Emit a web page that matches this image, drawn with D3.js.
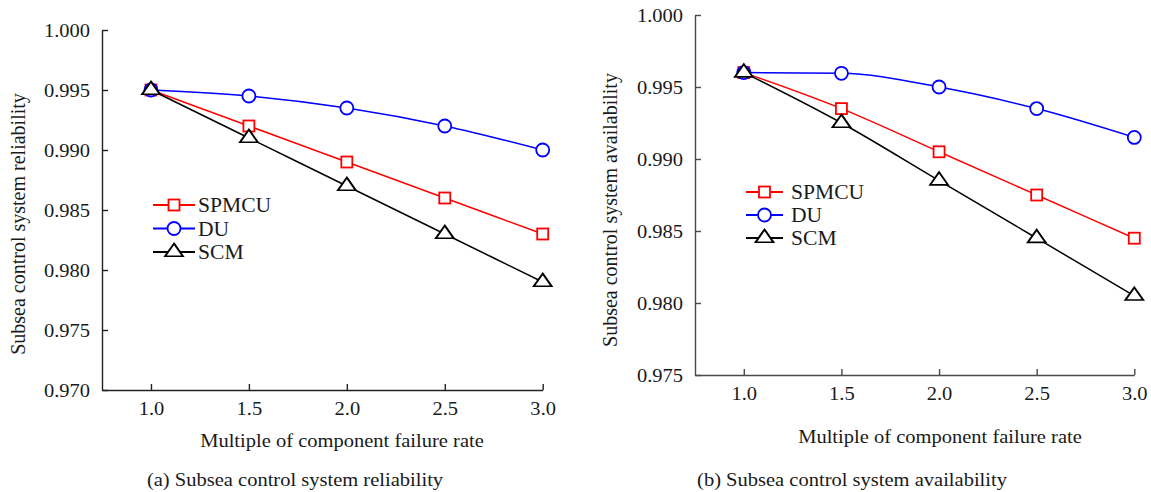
<!DOCTYPE html>
<html>
<head>
<meta charset="utf-8">
<script src="https://cdn.jsdelivr.net/npm/d3@7"></script>
<style>
  body { margin: 0; background: #fff; }
</style>
</head>
<body>
<svg id="chart" width="1151" height="492"></svg>
<script>
// failure-rate multiples on the x axis
var multiples = [1.0, 1.5, 2.0, 2.5, 3.0];
var seriesNames = ['SPMCU', 'DU', 'SCM'];

// (a) reliability
var relSPMCU = [0.995, 0.992, 0.989, 0.986, 0.983];
var relDU    = [0.995, 0.9945, 0.9935, 0.992, 0.990];
var relSCM   = [0.995, 0.991, 0.987, 0.983, 0.979];
var relTicks = [0.970, 0.975, 0.980, 0.985, 0.990, 0.995, 1.000];

// (b) availability
var avaSPMCU = [0.996, 0.9935, 0.9905, 0.9875, 0.9845];
var avaDU    = [0.996, 0.99595, 0.995, 0.9935, 0.9915];
var avaSCM   = [0.996, 0.9925, 0.9885, 0.9845, 0.9805];
var avaTicks = [0.975, 0.980, 0.985, 0.990, 0.995, 1.000];

var xTickLabels = ['1.0', '1.5', '2.0', '2.5', '3.0'];

var FS = 19;      // font size
var SX = 1.08;    // horizontal stretch of the glyphs in the source image
var FONT = '"Liberation Serif", "Times New Roman", serif';

var colors = { SPMCU: '#ff0000', DU: '#0000ff', SCM: '#000000' };

var svg = d3.select('#chart');
svg.append('rect').attr('width', 1151).attr('height', 492).attr('fill', '#fff');

function stretch(x, y) {
  return 'translate(' + x + ',' + y + ') scale(' + SX + ',1)';
}

function styleText(sel, size) {
  sel.style('font-family', FONT)
    .style('font-size', (size || FS) + 'px')
    .style('fill', '#1a1a1a');
}

function drawMarker(g, name, x, y) {
  var c = colors[name];
  if (name === 'SPMCU') {
    g.append('rect')
      .attr('x', x - 5.5).attr('y', y - 5.5)
      .attr('width', 11).attr('height', 11)
      .attr('fill', '#fff').attr('stroke', c).attr('stroke-width', 1.8);
  } else if (name === 'DU') {
    g.append('circle')
      .attr('cx', x).attr('cy', y).attr('r', 6.5)
      .attr('fill', '#fff').attr('stroke', c).attr('stroke-width', 1.8);
  } else {
    var tri = d3.symbol().type(d3.symbolTriangle).size(110);
    g.append('path')
      .attr('d', tri())
      .attr('transform', 'translate(' + x + ',' + y + ') scale(1.12,0.92)')
      .attr('fill', '#fff').attr('stroke', c).attr('stroke-width', 1.8);
  }
}

function drawPanel(p) {
  var x = d3.scaleLinear().domain([0.75, 3.0]).range(p.xRange);
  var y = d3.scaleLinear().domain(p.yDomain).range(p.yRange);
  var g = svg.append('g');

  var xAxis = d3.axisBottom(x)
    .tickValues(multiples)
    .tickFormat(function (d, i) { return xTickLabels[i]; })
    .tickSizeInner(-6).tickSizeOuter(0).tickPadding(12);
  var yAxis = d3.axisLeft(y)
    .tickValues(p.ticks)
    .tickFormat(d3.format('.3f'))
    .tickSizeInner(-6).tickSizeOuter(0).tickPadding(11);

  var gx = g.append('g').attr('transform', 'translate(0,' + p.yRange[0] + ')').call(xAxis);
  var gy = g.append('g').attr('transform', 'translate(' + p.xRange[0] + ',0)').call(yAxis);
  [gx, gy].forEach(function (ax) {
    ax.selectAll('path, line').attr('stroke', p.axisColor).attr('stroke-width', 1.4);
    ax.selectAll('text')
      .call(styleText)
      .attr('transform', 'scale(' + SX + ',1)');
  });

  var line = d3.line()
    .x(function (d, i) { return x(multiples[i]); })
    .y(function (d) { return y(d); })
    .curve(d3.curveMonotoneX);

  p.series.forEach(function (vals, k) {
    g.append('path')
      .attr('d', line(vals))
      .attr('fill', 'none')
      .attr('stroke', colors[seriesNames[k]])
      .attr('stroke-width', 1.5);
  });
  p.series.forEach(function (vals, k) {
    vals.forEach(function (v, i) {
      drawMarker(g, seriesNames[k], x(multiples[i]), y(v));
    });
  });

  // legend
  seriesNames.forEach(function (name, k) {
    var ly = p.legend.y + k * p.legend.dy;
    g.append('line')
      .attr('x1', p.legend.x1).attr('x2', p.legend.x2)
      .attr('y1', ly).attr('y2', ly)
      .attr('stroke', colors[name]).attr('stroke-width', 1.8);
    drawMarker(g, name, (p.legend.x1 + p.legend.x2) / 2, ly);
    g.append('text')
      .attr('transform', stretch(p.legend.tx, ly))
      .attr('dy', '0.35em')
      .call(styleText, 20)
      .text(name);
  });

  // axis titles and caption
  g.append('text')
    .attr('transform', stretch(p.xTitle[0], p.xTitle[1]))
    .attr('text-anchor', 'middle').attr('dy', '0.35em')
    .call(styleText)
    .text('Multiple of component failure rate');
  g.append('text')
    .attr('transform', 'translate(' + p.yTitle[0] + ',' + p.yTitle[1] + ') rotate(-90)')
    .attr('text-anchor', 'middle').attr('dy', '0.35em')
    .call(styleText, 20)
    .text(p.yTitleText);
  g.append('text')
    .attr('transform', stretch(p.caption[0], p.caption[1]))
    .attr('text-anchor', 'middle').attr('dy', '0.35em')
    .call(styleText)
    .text(p.captionText);
}

drawPanel({
  xRange: [102, 542.7], yRange: [390, 30], yDomain: [0.970, 1.000],
  ticks: relTicks, axisColor: '#222',
  series: [relSPMCU, relDU, relSCM],
  legend: { x1: 153, x2: 195, tx: 198, y: 205, dy: 23.5 },
  xTitle: [342, 440], yTitle: [18, 224],
  yTitleText: 'Subsea control system reliability',
  caption: [295, 479], captionText: '(a) Subsea control system reliability'
});

drawPanel({
  xRange: [695, 1134.3], yRange: [375, 15], yDomain: [0.975, 1.000],
  ticks: avaTicks, axisColor: '#4a4a4a',
  series: [avaSPMCU, avaDU, avaSCM],
  legend: { x1: 746, x2: 783, tx: 791, y: 192, dy: 23 },
  xTitle: [940, 436], yTitle: [610, 210],
  yTitleText: 'Subsea control system availability',
  caption: [852, 479], captionText: '(b) Subsea control system availability'
});
</script>
</body>
</html>
